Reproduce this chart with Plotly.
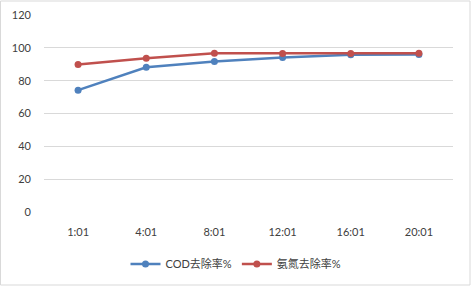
import plotly.graph_objects as go

categories = ["1:01", "4:01", "8:01", "12:01", "16:01", "20:01"]
cod = [74.2, 88.2, 91.6, 94.1, 95.8, 96.0]
nh3 = [89.8, 93.6, 96.7, 96.6, 96.6, 96.7]
yticks = [0, 20, 40, 60, 80, 100, 120]

W, H = 471, 286
ml, mr, mt, mb = 44, 18, 15, 74
pw, ph = W - ml - mr, H - mt - mb

fig = go.Figure()
fig.add_trace(go.Scatter(x=categories, y=cod, name="COD去除率%", mode="lines+markers",
                         line=dict(color="#4F81BD", width=2.5),
                         marker=dict(color="#4F81BD", size=7)))
fig.add_trace(go.Scatter(x=categories, y=nh3, name="氨氮去除率%", mode="lines+markers",
                         line=dict(color="#C0504D", width=2.5),
                         marker=dict(color="#C0504D", size=7)))

def px2x(p):
    return (p - ml) / pw

def px2y(p):
    return (H - mb - p) / ph

fig.add_shape(type="rect", xref="paper", yref="paper",
              x0=px2x(0.5), x1=px2x(470), y0=px2y(285), y1=px2y(1),
              line=dict(color="#D9D9D9", width=1), fillcolor="rgba(0,0,0,0)")

fig.update_layout(
    width=W, height=H,
    margin=dict(l=ml, r=mr, t=mt, b=mb, autoexpand=False),
    paper_bgcolor="white", plot_bgcolor="white",
    font=dict(family="Lato, 'Noto Sans CJK SC', sans-serif", size=11, color="#404040"),
    showlegend=True,
    legend=dict(orientation="h", x=px2x(236), xanchor="center", y=px2y(264), yanchor="middle",
                font=dict(family="Lato, 'Noto Sans CJK SC', sans-serif", size=11, color="#404040"),
                itemwidth=30),
    xaxis=dict(type="category", range=[-0.5, len(categories) - 0.5], showgrid=False,
               showline=False, zeroline=False,
               ticks="", ticklabelstandoff=12, tickfont=dict(size=11, color="#404040")),
    yaxis=dict(range=[0, 120], tickvals=yticks, showgrid=True, gridcolor="#D9D9D9",
               gridwidth=1, zeroline=False, showline=False, ticks="",
               ticklabelstandoff=12, tickfont=dict(size=11, color="#404040")),
)

fig.write_html("out.html", config={"displayModeBar": False},
               post_script="document.body.style.margin='0';document.body.style.overflow='hidden';")
